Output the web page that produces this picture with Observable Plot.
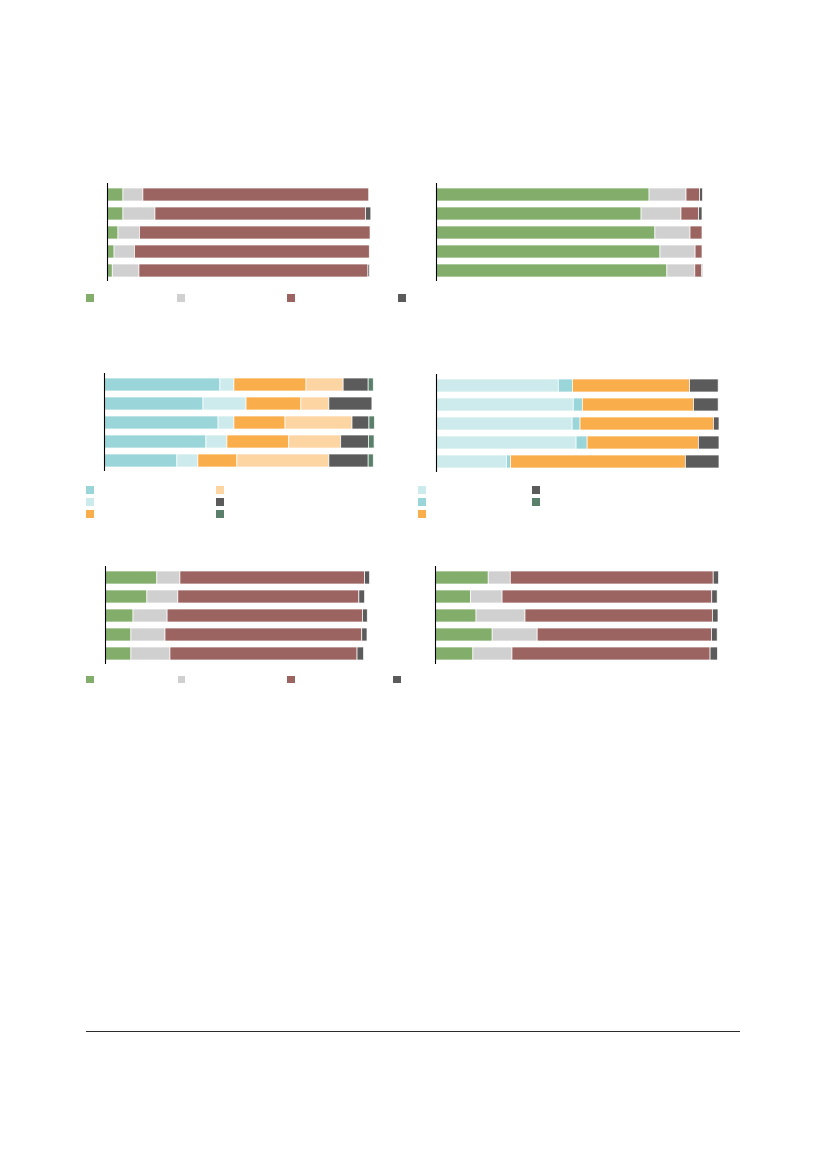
<!DOCTYPE html>
<html>
<head>
<meta charset="utf-8">
<script src="https://cdn.jsdelivr.net/npm/d3@7"></script>
<script src="https://cdn.jsdelivr.net/npm/@observablehq/plot@0.6"></script>
<style>
  html, body { margin: 0; padding: 0; background: #fff; }
  body { width: 828px; height: 1169px; position: relative; overflow: hidden; font-family: "Liberation Sans", Arial, sans-serif; }
  .chart { position: absolute; }
  .sw { position: absolute; width: 7.5px; height: 7.5px; }
  .rule { position: absolute; left: 86px; top: 1031px; width: 654px; height: 1.2px; background: #2b2b2b; }
</style>
</head>
<body>
<div class="rule"></div>
<script>
// ---------- data ----------
const rows = ["r1", "r2", "r3", "r4", "r5"];

// palette
const cGreen = "#82ad6a", cGray = "#d0d0d0", cRed = "#9c6461", cDark = "#5b5b5b";
const cTeal = "#9ad6d9", cLtTeal = "#cdebec", cOrange = "#f9ae4b", cLtOrange = "#fcd5a3", cDkGreen = "#5a806b";

// chart 1 (top-left): green, gray, red, dark
const c1Green = [6.1, 6.1, 4.2, 2.7, 2.0];
const c1Gray  = [7.6, 12.2, 8.2, 7.8, 10.2];
const c1Red   = [86.2, 80.4, 88.0, 89.6, 87.4];
const c1Dark  = [0, 2.0, 0, 0, 0.6];

// chart 2 (top-right)
const c2Green = [80.1, 77.1, 82.3, 84.2, 86.8];
const c2Gray  = [13.9, 15.0, 13.2, 13.2, 10.5];
const c2Red   = [5.1, 6.6, 4.5, 2.6, 2.5];
const c2Dark  = [1.1, 1.3, 0, 0, 0.4];

// chart 3 (middle-left): teal, light teal, orange, light orange, dark, dark green
const c3Teal     = [43.1, 36.8, 42.4, 37.9, 27.1];
const c3LtTeal   = [5.2, 16.0, 5.9, 7.8, 7.8];
const c3Orange   = [26.8, 20.4, 19.0, 23.0, 14.5];
const c3LtOrange = [13.8, 10.4, 24.9, 19.3, 34.2];
const c3Dark     = [9.3, 16.0, 6.3, 10.3, 14.6];
const c3DkGreen  = [1.9, 0, 2.0, 2.1, 1.9];

// chart 4 (middle-right): light teal, teal, orange, dark, dark green
const c4LtTeal  = [43.2, 48.5, 48.1, 49.5, 24.9];
const c4Teal    = [5.0, 3.2, 2.8, 3.9, 1.4];
const c4Orange  = [41.4, 39.3, 47.1, 39.3, 61.8];
const c4Dark    = [10.1, 8.7, 2.0, 7.3, 11.9];
const c4DkGreen = [0, 0, 0, 0, 0];

// chart 5 (bottom-left)
const c5Green = [19.8, 16.0, 10.7, 9.9, 9.9];
const c5Gray  = [8.8, 11.8, 13.0, 13.0, 14.9];
const c5Red   = [70.5, 69.1, 74.6, 75.1, 71.4];
const c5Dark  = [1.9, 2.2, 1.8, 2.0, 2.5];

// chart 6 (bottom-right)
const c6Green = [18.8, 12.6, 14.5, 20.2, 13.4];
const c6Gray  = [7.8, 11.1, 17.3, 15.9, 13.8];
const c6Red   = [71.7, 74.1, 66.2, 61.6, 70.0];
const c6Dark  = [1.9, 1.9, 2.0, 2.0, 2.6];

// ---------- helpers ----------
function table(series) {
  // series: [[key, color, values], ...]
  const out = [];
  series.forEach(([key, color, vals], si) => {
    vals.forEach((v, i) => out.push({row: rows[i], key, order: si, value: v}));
  });
  return out;
}

function chart({series, left, top, width}) {
  const mL = 3, mR = 14, mT = 3, mB = 3, inner = 98;
  const data = table(series);
  const keys = series.map(s => s[0]);
  const colors = series.map(s => s[1]);
  const p = Plot.plot({
    width: mL + width + mR,
    height: mT + inner + mB,
    marginLeft: mL, marginRight: mR, marginTop: mT, marginBottom: mB,
    x: {domain: [0, 100], axis: null},
    y: {domain: rows, axis: null, paddingInner: 0.342, paddingOuter: 0.152},
    color: {domain: keys, range: colors},
    marks: [
      Plot.barX(data, Plot.stackX({
        x: "value", y: "row", fill: "key", order: "order",
        stroke: "white", strokeWidth: 0.7, filter: d => d.value > 0
      })),
      Plot.ruleX([0], {stroke: "#000", strokeWidth: 1.1})
    ]
  });
  const div = document.createElement("div");
  div.className = "chart";
  div.style.left = (left - mL) + "px";
  div.style.top = (top - mT) + "px";
  div.appendChild(p);
  document.body.appendChild(div);
}

function swatch(x, y, color) {
  const s = document.createElement("div");
  s.className = "sw";
  s.style.left = x + "px";
  s.style.top = y + "px";
  s.style.background = color;
  document.body.appendChild(s);
}

// ---------- charts ----------
chart({left: 107.3, top: 183, width: 262, series: [
  ["green", cGreen, c1Green], ["gray", cGray, c1Gray], ["red", cRed, c1Red], ["dark", cDark, c1Dark]]});
chart({left: 436.3, top: 183, width: 266, series: [
  ["green", cGreen, c2Green], ["gray", cGray, c2Gray], ["red", cRed, c2Red], ["dark", cDark, c2Dark]]});
chart({left: 104.3, top: 373.3, width: 269, series: [
  ["teal", cTeal, c3Teal], ["ltteal", cLtTeal, c3LtTeal], ["orange", cOrange, c3Orange],
  ["ltorange", cLtOrange, c3LtOrange], ["dark", cDark, c3Dark], ["dkgreen", cDkGreen, c3DkGreen]]});
chart({left: 436.3, top: 373.8, width: 283, series: [
  ["ltteal", cLtTeal, c4LtTeal], ["teal", cTeal, c4Teal], ["orange", cOrange, c4Orange],
  ["dark", cDark, c4Dark], ["dkgreen", cDkGreen, c4DkGreen]]});
chart({left: 105.3, top: 566, width: 262, series: [
  ["green", cGreen, c5Green], ["gray", cGray, c5Gray], ["red", cRed, c5Red], ["dark", cDark, c5Dark]]});
chart({left: 435.3, top: 566, width: 283, series: [
  ["green", cGreen, c6Green], ["gray", cGray, c6Gray], ["red", cRed, c6Red], ["dark", cDark, c6Dark]]});

// ---------- legends (swatches only) ----------
[[86, cGreen], [177, cGray], [287, cRed], [398, cDark]].forEach(([x, c]) => swatch(x, 294, c));
[[86, 486, cTeal], [86, 498, cLtTeal], [86, 510, cOrange],
 [216, 486, cLtOrange], [216, 498, cDark], [216, 510, cDkGreen]].forEach(([x, y, c]) => swatch(x, y, c));
[[418, 486, cLtTeal], [418, 498, cTeal], [418, 510, cOrange],
 [532, 486, cDark], [532, 498, cDkGreen]].forEach(([x, y, c]) => swatch(x, y, c));
[[86, cGreen], [177.5, cGray], [287, cRed], [393, cDark]].forEach(([x, c]) => swatch(x, 675.7, c));
</script>
</body>
</html>
